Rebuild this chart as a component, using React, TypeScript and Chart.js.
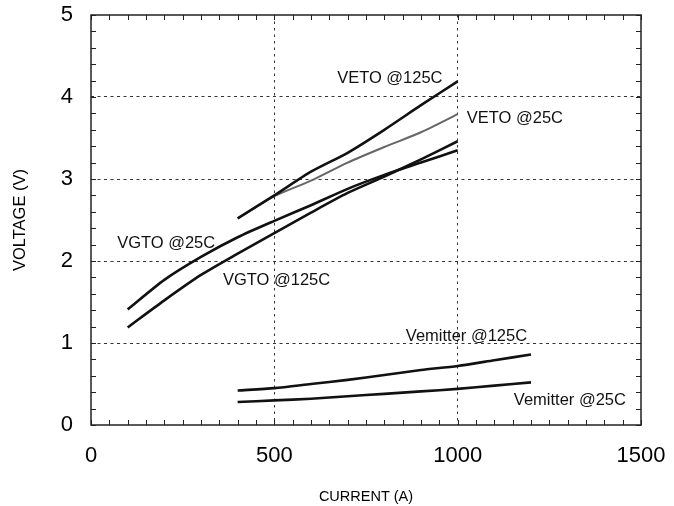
import React, { useEffect, useRef } from "react";
import { Chart, registerables } from "chart.js";

Chart.register(...registerables);

// ---- data ----
const currentVGTO = [100, 200, 300, 400, 500, 600, 700, 800, 900, 1000];
const vgto25 = [1.41, 1.77, 2.05, 2.29, 2.49, 2.68, 2.88, 3.05, 3.2, 3.35];
const vgto125 = [1.19, 1.52, 1.83, 2.09, 2.34, 2.59, 2.83, 3.03, 3.24, 3.46];

const currentVETO = [400, 500, 600, 700, 800, 900, 1000];
const veto125 = [2.52, 2.8, 3.09, 3.32, 3.6, 3.9, 4.19];
const veto25 = [2.52, 2.79, 2.98, 3.2, 3.39, 3.57, 3.79];

const currentVem = [400, 500, 600, 700, 800, 900, 1000, 1100, 1200];
const vem125 = [0.42, 0.45, 0.5, 0.55, 0.61, 0.67, 0.72, 0.79, 0.86];
const vem25 = [0.28, 0.3, 0.32, 0.35, 0.38, 0.41, 0.44, 0.48, 0.52];

const xTicks = [0, 500, 1000, 1500];
const yTicks = [0, 1, 2, 3, 4, 5];
const xMinorStep = 50;
const yMinorStep = 0.2;

const curveLabels = ["VETO @125C", "VETO @25C", "VGTO @25C", "VGTO @125C", "Vemitter @125C", "Vemitter @25C"];
const labelX = [815, 1156, 205, 506, 1024, 1306];
const labelY = [4.23, 3.74, 2.22, 1.76, 1.085, 0.305];

const FONT = "'Liberation Sans', Arial, Helvetica, sans-serif";

const toPoints = (xs: number[], ys: number[]) => xs.map((x, i) => ({ x, y: ys[i] }));

const framePlugin = {
  id: "frameAndMinorTicks",
  afterDraw(chart: any) {
    const { ctx, chartArea, scales } = chart;
    const xs = scales.x;
    const ys = scales.y;
    ctx.save();
    ctx.strokeStyle = "#222";
    ctx.lineWidth = 1;
    const len = 5;
    for (let v = xs.min; v <= xs.max + 1e-9; v += xMinorStep) {
      const px = Math.round(xs.getPixelForValue(v)) + 0.5;
      ctx.beginPath();
      ctx.moveTo(px, chartArea.bottom);
      ctx.lineTo(px, chartArea.bottom - len);
      ctx.moveTo(px, chartArea.top);
      ctx.lineTo(px, chartArea.top + len);
      ctx.stroke();
    }
    for (let v = ys.min; v <= ys.max + 1e-9; v += yMinorStep) {
      const py = Math.round(ys.getPixelForValue(v)) + 0.5;
      ctx.beginPath();
      ctx.moveTo(chartArea.left, py);
      ctx.lineTo(chartArea.left + len, py);
      ctx.moveTo(chartArea.right, py);
      ctx.lineTo(chartArea.right - len, py);
      ctx.stroke();
    }
    ctx.lineWidth = 1.5;
    ctx.strokeStyle = "#222";
    ctx.strokeRect(chartArea.left, chartArea.top, chartArea.right - chartArea.left, chartArea.bottom - chartArea.top);
    ctx.restore();
  },
};

const labelPlugin = {
  id: "curveLabels",
  afterDatasetsDraw(chart: any) {
    const { ctx, scales } = chart;
    ctx.save();
    ctx.fillStyle = "#111";
    ctx.font = `16.5px ${FONT}`;
    ctx.textAlign = "center";
    ctx.textBaseline = "middle";
    curveLabels.forEach((t, i) => {
      ctx.fillText(t, scales.x.getPixelForValue(labelX[i]), scales.y.getPixelForValue(labelY[i]));
    });
    ctx.restore();
  },
};

export default function App() {
  const ref = useRef<HTMLCanvasElement | null>(null);
  useEffect(() => {
    if (!ref.current) return;
    const black = "#111";
    const lineDs = (label: string, data: any[], color: string, width: number) => ({
      label,
      data,
      borderColor: color,
      backgroundColor: color,
      borderWidth: width,
      pointRadius: 0,
      fill: false,
      tension: 0.25,
    });
    const chart = new Chart(ref.current, {
      type: "line",
      data: {
        datasets: [
          lineDs("VGTO @25C", toPoints(currentVGTO, vgto25), black, 2.6),
          lineDs("VGTO @125C", toPoints(currentVGTO, vgto125), black, 2.6),
          lineDs("VETO @125C", toPoints(currentVETO, veto125), black, 2.6),
          lineDs("VETO @25C", toPoints(currentVETO, veto25), "#666", 2),
          lineDs("Vemitter @125C", toPoints(currentVem, vem125), black, 2.6),
          lineDs("Vemitter @25C", toPoints(currentVem, vem25), black, 2.6),
        ],
      },
      options: {
        animation: false,
        responsive: true,
        maintainAspectRatio: false,
        layout: { padding: { top: 15, right: 33, left: 0, bottom: 0 } },
        plugins: { legend: { display: false }, tooltip: { enabled: false } },
        scales: {
          x: {
            type: "linear",
            min: 0,
            max: 1500,
            afterBuildTicks: (s: any) => {
              s.ticks = xTicks.map((v) => ({ value: v }));
            },
            afterFit: (s: any) => {
              s.height = 81;
              s.paddingLeft = 0;
              s.paddingRight = 0;
            },
            grid: {
              color: (c: any) =>
                c.tick && (c.tick.value === 0 || c.tick.value === 1500) ? "rgba(0,0,0,0)" : "#333",
              lineWidth: 1,
              drawTicks: false,
            },
            border: { display: false, dash: [2.5, 4] },
            ticks: {
              color: "#000",
              font: { family: FONT, size: 22 },
              padding: 18,
              maxRotation: 0,
              autoSkip: false,
              callback: (v: any) => String(v),
            },
            title: {
              display: true,
              text: "CURRENT (A)",
              color: "#000",
              font: { family: FONT, size: 14.5 },
              padding: { top: 5, bottom: 0 },
            },
          },
          y: {
            type: "linear",
            min: 0,
            max: 5,
            afterBuildTicks: (s: any) => {
              s.ticks = yTicks.map((v) => ({ value: v }));
            },
            afterFit: (s: any) => {
              s.width = 91;
              s.paddingTop = 0;
              s.paddingBottom = 0;
            },
            grid: {
              color: (c: any) =>
                c.tick && (c.tick.value === 0 || c.tick.value === 5) ? "rgba(0,0,0,0)" : "#333",
              lineWidth: 1,
              drawTicks: false,
            },
            border: { display: false, dash: [3, 3.5] },
            ticks: {
              color: "#000",
              font: { family: FONT, size: 22 },
              padding: 18,
              autoSkip: false,
              callback: (v: any) => String(v),
            },
            title: {
              display: true,
              text: "VOLTAGE (V)",
              color: "#000",
              font: { family: FONT, size: 16.5 },
              padding: { top: 11, bottom: 0 },
            },
          },
        },
      },
      plugins: [framePlugin, labelPlugin],
    } as any);
    return () => chart.destroy();
  }, []);
  return (
    <div style={{ position: "fixed", left: 0, top: 0, width: 674, height: 506, background: "#fff" }}>
      <canvas ref={ref} />
    </div>
  );
}
